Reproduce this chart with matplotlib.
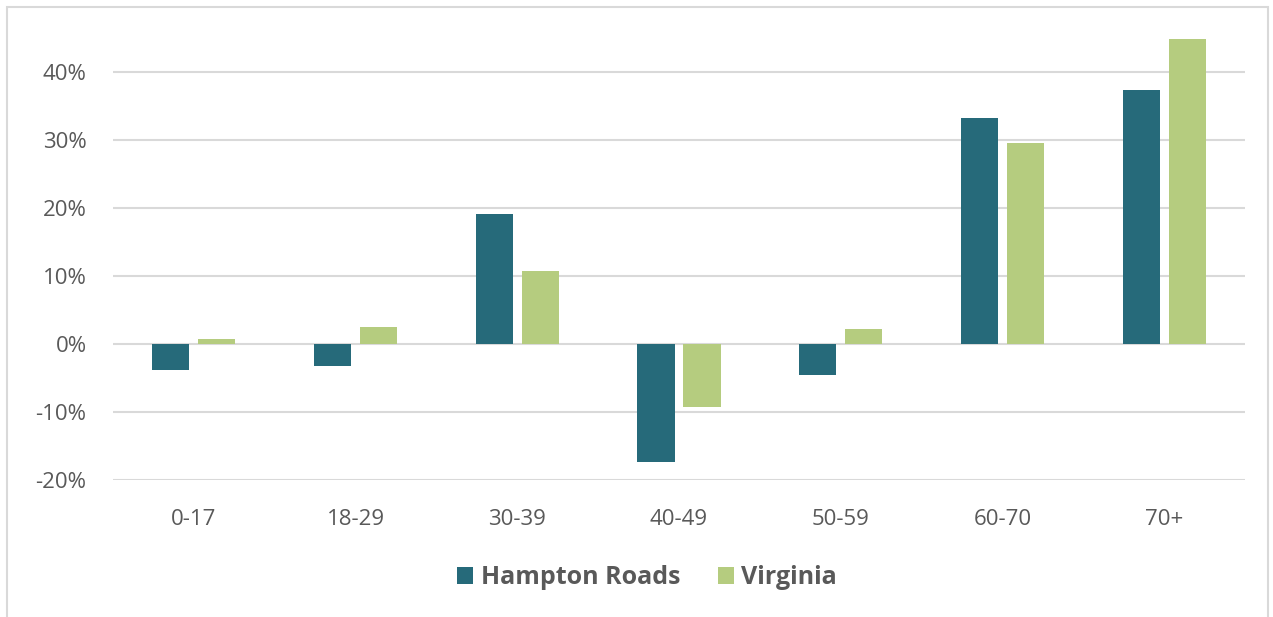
import matplotlib.pyplot as plt
import matplotlib.patches as mpatches
import numpy as np

ages     = ['0-17', '18-29', '30-39', '40-49', '50-59', '60-70', '70+']
hampton  = [-0.039, -0.033, 0.191, -0.174, -0.046, 0.332, 0.373]
virginia = [0.007, 0.025, 0.107, -0.094, 0.021, 0.295, 0.448]
yticks   = [-0.2, -0.1, 0.0, 0.1, 0.2, 0.3, 0.4]

c_hr   = '#266a7a'
c_va   = '#b5cc7f'
c_text = '#595959'
c_grid = '#d9d9d9'

plt.rcParams['font.family'] = ['Open Sans', 'DejaVu Sans']

fig = plt.figure(figsize=(12.73, 6.17), dpi=100)
ax  = fig.add_axes([113 / 1273, 1 - 479.5 / 617, 1132 / 1273, 472.5 / 617])

# light border round the chart area
fig.patches.append(mpatches.Rectangle((7 / 1273, -0.01), 1261 / 1273, 1 - 7 / 617 + 0.01,
                                      transform=fig.transFigure, fill=False,
                                      edgecolor=c_grid, linewidth=1.5))

x     = np.arange(len(ages))
width = 0.23
gap   = 0.055
ax.bar(x - (width + gap) / 2, hampton,  width, color=c_hr, label='Hampton Roads', zorder=3)
ax.bar(x + (width + gap) / 2, virginia, width, color=c_va, label='Virginia',      zorder=3)

ax.set_xlim(-0.5, len(ages) - 0.5)
ax.set_ylim(-0.2, 0.495)
ax.set_yticks(yticks)
ax.set_yticklabels(['{:.0f}%'.format(v * 100) for v in yticks])
ax.set_xticks(x)
ax.set_xticklabels(ages)

ax.grid(axis='y', color=c_grid, linewidth=1.5, zorder=0)
ax.tick_params(length=0, labelsize=16, colors=c_text)
ax.tick_params(axis='y', pad=19)
ax.tick_params(axis='x', pad=21)
for side in ax.spines.values():
    side.set_visible(False)

leg = fig.legend(loc='center', bbox_to_anchor=(647 / 1273, 1 - 578 / 617), ncol=2,
                 frameon=False, handlelength=0.65, handleheight=0.65,
                 handletextpad=0.3, columnspacing=1.5,
                 prop={'size': 18, 'weight': 'bold'})
for t in leg.get_texts():
    t.set_color(c_text)

fig.savefig('out.png', dpi=100)
